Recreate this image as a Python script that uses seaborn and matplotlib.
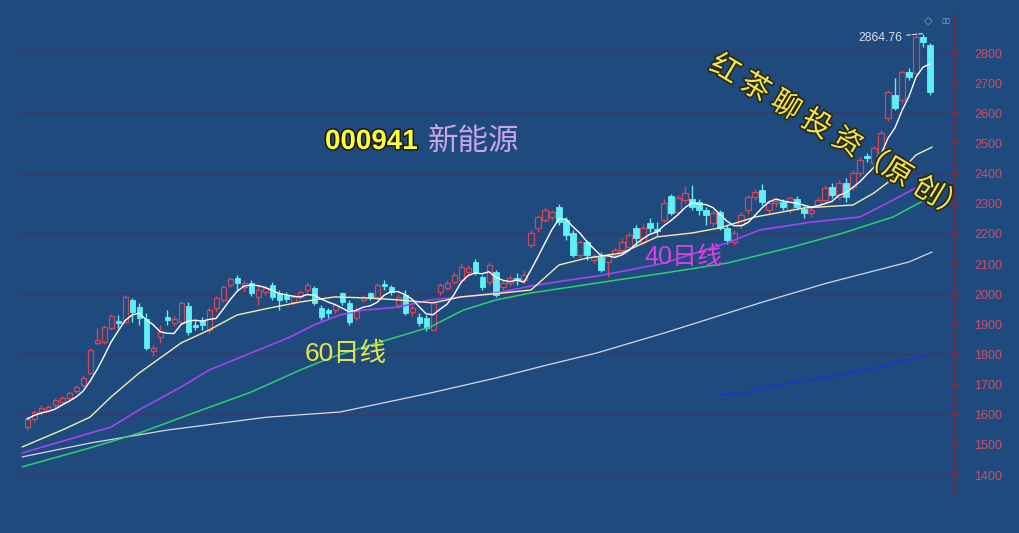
import numpy as np
import pandas as pd
import matplotlib
matplotlib.use('Agg')
import matplotlib.pyplot as plt
import matplotlib.patheffects as pe
import seaborn as sns

# daily candles (000941)
opens = [1559, 1586, 1609, 1616, 1632, 1642, 1655, 1679, 1699, 1738,
         1838, 1841, 1888, 1911, 1908, 1981, 1957, 1918, 1811, 1858,
         1924, 1904, 1908, 1961, 1898, 1914, 1881, 1954, 1981, 2030,
         2054, 2024, 2037, 1991, 2007, 2030, 2004, 1997, 1974, 1991,
         2014, 2020, 1954, 1947, 1947, 2004, 1971, 1921, 1981, 2004,
         1991, 2034, 2024, 1964, 1997, 1941, 1924, 1921, 1881, 2007,
         2020, 2040, 2047, 2074, 2107, 2057, 2040, 2074, 2024, 2037,
         2054, 2047, 2163, 2220, 2246, 2256, 2289, 2246, 2203, 2130,
         2173, 2113, 2123, 2107, 2130, 2147, 2157, 2220, 2173, 2236,
         2216, 2246, 2326, 2273, 2312, 2316, 2306, 2279, 2236, 2273,
         2220, 2173, 2230, 2279, 2322, 2346, 2279, 2302, 2306, 2279,
         2316, 2283, 2269, 2296, 2312, 2356, 2322, 2369, 2356, 2402,
         2458, 2435, 2468, 2585, 2661, 2644, 2737, 2734, 2853, 2827]
closes = [1586, 1609, 1622, 1626, 1649, 1655, 1672, 1692, 1722, 1815,
          1848, 1891, 1928, 1904, 1991, 1941, 1921, 1821, 1821, 1874,
          1914, 1918, 1971, 1874, 1891, 1898, 1947, 1987, 2024, 2050,
          2037, 2037, 2004, 2014, 2020, 1991, 1981, 1984, 1991, 2007,
          2030, 1971, 1924, 1938, 1964, 1974, 1908, 1947, 1991, 1987,
          2030, 2027, 2007, 1991, 1938, 1954, 1904, 1888, 1974, 2030,
          2037, 2064, 2090, 2087, 2074, 2024, 2097, 1997, 2037, 2054,
          2047, 2064, 2203, 2256, 2279, 2273, 2239, 2196, 2130, 2173,
          2130, 2123, 2080, 2130, 2147, 2173, 2196, 2186, 2220, 2220,
          2210, 2302, 2269, 2319, 2336, 2289, 2279, 2263, 2269, 2220,
          2180, 2203, 2263, 2322, 2339, 2306, 2302, 2309, 2289, 2319,
          2289, 2269, 2279, 2312, 2352, 2329, 2369, 2322, 2402, 2445,
          2452, 2485, 2535, 2671, 2618, 2737, 2721, 2853, 2837, 2671]
highs = [1596, 1616, 1632, 1632, 1655, 1662, 1679, 1699, 1732, 1821,
         1888, 1898, 1934, 1931, 1997, 1987, 1971, 1938, 1831, 1898,
         1947, 1928, 1977, 1974, 1914, 1924, 1954, 1994, 2030, 2057,
         2064, 2047, 2047, 2030, 2027, 2040, 2014, 2007, 1997, 2014,
         2040, 2027, 1964, 1954, 1971, 2007, 1981, 1957, 1997, 2007,
         2037, 2047, 2030, 2001, 2014, 1964, 1938, 1931, 1981, 2037,
         2047, 2074, 2103, 2097, 2117, 2064, 2107, 2080, 2047, 2064,
         2070, 2080, 2213, 2263, 2289, 2279, 2299, 2256, 2213, 2180,
         2180, 2133, 2140, 2137, 2157, 2186, 2206, 2230, 2233, 2253,
         2239, 2316, 2332, 2329, 2359, 2362, 2316, 2289, 2279, 2279,
         2230, 2213, 2273, 2329, 2349, 2366, 2312, 2319, 2316, 2326,
         2326, 2293, 2289, 2322, 2362, 2369, 2379, 2385, 2412, 2455,
         2468, 2492, 2545, 2677, 2717, 2744, 2750, 2860, 2864.76, 2833]
lows = [1549, 1576, 1599, 1609, 1622, 1636, 1649, 1672, 1692, 1735,
        1831, 1835, 1881, 1888, 1904, 1908, 1898, 1815, 1795, 1838,
        1898, 1894, 1901, 1865, 1881, 1881, 1871, 1941, 1974, 2024,
        2014, 2007, 1994, 1964, 1997, 1981, 1947, 1974, 1964, 1984,
        2004, 1964, 1914, 1921, 1938, 1964, 1898, 1914, 1974, 1981,
        1981, 2014, 1997, 1954, 1931, 1928, 1894, 1878, 1878, 1997,
        2014, 2034, 2040, 2064, 2064, 2014, 2030, 1991, 2014, 2027,
        2030, 2037, 2153, 2206, 2239, 2246, 2230, 2180, 2123, 2120,
        2113, 2103, 2074, 2057, 2120, 2140, 2147, 2163, 2166, 2206,
        2193, 2239, 2263, 2266, 2302, 2279, 2263, 2230, 2226, 2213,
        2166, 2163, 2220, 2266, 2312, 2296, 2266, 2289, 2279, 2269,
        2279, 2253, 2256, 2286, 2302, 2319, 2312, 2306, 2346, 2392,
        2439, 2425, 2458, 2575, 2611, 2634, 2711, 2727, 2820, 2661]

# moving average lines (day index, price)
ma20_day = [-0.7, 5, 9, 12, 16, 22, 26, 30, 34, 39, 44, 49, 53, 58, 62, 68, 72,
            76, 80, 85, 90, 95, 99, 104, 111, 118, 121, 124, 127, 129.3]
ma20_val = [1493, 1549, 1592, 1659, 1738, 1838, 1881, 1931, 1951, 1974, 1991,
            1987, 1981, 1971, 1991, 2004, 2014, 2097, 2120, 2137, 2190, 2203,
            2220, 2256, 2286, 2296, 2336, 2389, 2462, 2488]
ma40_day = [-0.7, 9, 12, 16, 22, 26, 32, 37.6, 41, 44.7, 48, 53, 57.6, 62.3, 67,
            72, 76.6, 81.4, 86, 91, 100, 104.7, 112, 119, 123.7, 128.3]
ma40_val = [1473, 1539, 1559, 1616, 1692, 1748, 1805, 1858, 1898, 1931, 1947,
            1957, 1981, 1991, 2004, 2027, 2044, 2060, 2080, 2103, 2170, 2213,
            2239, 2256, 2312, 2369]
ma60_day = [-0.7, 9, 16, 25, 32, 39, 43.7, 50.4, 57.6, 62.3, 67, 72, 76.6, 81.4,
            91, 100, 109.4, 116.6, 123.7, 129]
ma60_val = [1427, 1490, 1539, 1616, 1675, 1748, 1792, 1841, 1891, 1947, 1981,
            2004, 2020, 2037, 2070, 2103, 2157, 2203, 2256, 2322]
ma120_day = [-0.7, 9, 20, 34.3, 44.7, 57.6, 67, 74.3, 81.4, 91, 104.7, 114.3,
             126, 129.3]
ma120_val = [1460, 1506, 1549, 1592, 1609, 1672, 1722, 1765, 1805, 1871, 1971,
             2037, 2107, 2140]
ma250_day = [99, 102.9, 104.7, 114.3, 121.4, 123.7, 129]
ma250_val = [1665, 1672, 1689, 1725, 1755, 1772, 1798]

price_ticks = list(range(1400, 2801, 100))
grid_levels = list(range(1400, 2801, 200))
peak_label = '2864.76'

bg = '#1f4a7d'
up_col = '#d0485c'
down_col = '#5ef0f6'

sns.set_theme(style='dark')
plt.rcParams['font.family'] = ['Liberation Sans', 'Noto Sans CJK SC', 'DejaVu Sans']

df = pd.DataFrame({'open': opens, 'high': highs, 'low': lows, 'close': closes})
df['day'] = np.arange(len(df))
df['ma5'] = df['close'].rolling(5, min_periods=1).mean()
df['up'] = df['close'] >= df['open']
df['body_lo'] = df[['open', 'close']].min(axis=1)
df['body_h'] = np.maximum((df['close'] - df['open']).abs(), 2.5)

fig = plt.figure(figsize=(10.2, 5.33), dpi=100)
fig.patch.set_facecolor(bg)
ax = fig.add_axes([18 / 1020, 40 / 533, 937 / 1020, 478 / 533])
ax.set_facecolor(bg)

for lv in grid_levels:
    ax.axhline(lv, color='#333e6c', lw=1.6, zorder=0)

wick_cols = np.where(df['up'], up_col, down_col)
ax.vlines(df['day'], df['low'], df['high'], colors=wick_cols, lw=1.0, zorder=2)
ups = df[df['up']]
downs = df[~df['up']]
ax.bar(ups['day'], ups['body_h'], bottom=ups['body_lo'], width=0.72,
       facecolor=bg, edgecolor=up_col, linewidth=0.9, zorder=3)
ax.bar(downs['day'], downs['body_h'], bottom=downs['body_lo'], width=0.72,
       facecolor=down_col, edgecolor=down_col, linewidth=0.6, zorder=3)

lines = [
    (ma250_day, ma250_val, '#1a33d8', 1.1),
    (ma120_day, ma120_val, '#d6d8ea', 0.9),
    (ma60_day, ma60_val, '#2ed070', 1.1),
    (ma40_day, ma40_val, '#a444f0', 1.2),
    (ma20_day, ma20_val, '#f2eeaa', 1.0),
]
for xs, ys, c, w in lines:
    sns.lineplot(x=xs, y=ys, ax=ax, color=c, lw=w, estimator=None, sort=False, zorder=4)
sns.lineplot(data=df, x='day', y='ma5', ax=ax, color='white', lw=1.0,
             estimator=None, zorder=5)

ax.set_xlim(-1.29, 132.57)
ax.set_ylim(1340.3, 2926.3)
ax.set_xlabel('')
ax.set_ylabel('')
ax.set_xticks([])
ax.set_yticks(price_ticks)
ax.yaxis.tick_right()
ax.tick_params(axis='y', which='both', direction='inout', length=6, width=1.2,
               color='#8c2a40', labelcolor='#c8506a', labelsize=9, pad=11, right=True, left=False)
for s in ['left', 'top', 'bottom']:
    ax.spines[s].set_visible(False)
ax.spines['right'].set_color('#6e2a44')
ax.spines['right'].set_linewidth(1.6)
ax.grid(False)

# peak annotation
peak_i = int(np.argmax(highs))
ax.annotate(peak_label, xy=(peak_i, highs[peak_i]), xytext=(125, 2850),
            ha='right', va='center', fontsize=8.8, color='#dcdcec',
            arrowprops=dict(arrowstyle='-', color='#dcdcec', lw=0.8, ls='--',
                            shrinkA=1, shrinkB=0))

dark = [pe.withStroke(linewidth=2.2, foreground='#1a1a10')]
fig.text(325 / 1020, 1 - 142 / 533, '000941', color='#ffff38', fontsize=20,
         fontweight='bold', va='center', ha='left', path_effects=dark)
fig.text(428 / 1020, 1 - 142 / 533, '新能源', color='#c9a6e8', fontsize=22,
         family=['Noto Sans CJK SC', 'DejaVu Sans'], va='center', ha='left')
fig.text(305 / 1020, 1 - 354 / 533, '60日线', color='#e6e64a', fontsize=19,
         va='center', ha='left')
fig.text(644 / 1020, 1 - 257 / 533, '40日线', color='#dc40e4', fontsize=18,
         va='center', ha='left')
fig.text(712 / 1020, 1 - 62 / 533, '红 茶 聊 投 资（原 创）', color='#f6e64c', fontsize=21,
         family=['Noto Sans CJK SC', 'DejaVu Sans'],
         rotation=-31, rotation_mode='anchor', va='center', ha='left',
         path_effects=[pe.withStroke(linewidth=2.5, foreground='#2a2a18')])
fig.text(924 / 1020, 1 - 21 / 533, '◇', color='#9aa4c0', fontsize=8,
         family=['DejaVu Sans'], va='center', ha='left')
fig.text(941 / 1020, 1 - 21 / 533, '▯▯', color='#9aa4c0', fontsize=6,
         family=['DejaVu Sans'], va='center', ha='left')

fig.savefig('out.png', dpi=100, facecolor=fig.get_facecolor())
